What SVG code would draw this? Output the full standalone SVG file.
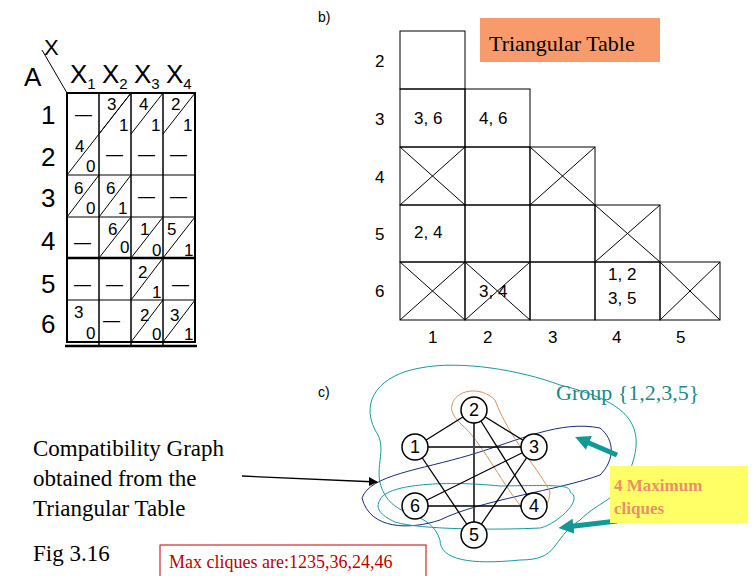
<svg xmlns="http://www.w3.org/2000/svg" width="756" height="576" viewBox="0 0 756 576">
<defs>
<style>
.s{font-family:"Liberation Sans",Arial,sans-serif}
.t{font-family:"Liberation Serif","Times New Roman",serif}
.g{stroke:#000;fill:none}
.n circle{fill:#fff;stroke:#000;stroke-width:1.5}
.n text{font-family:"Liberation Sans",Arial,sans-serif;font-size:18px;text-anchor:middle}
</style>
<marker id="ah" viewBox="0 0 10 10" refX="9" refY="5" markerWidth="7" markerHeight="7" orient="auto"><path d="M0,0 L10,5 L0,10 z" fill="#000"/></marker>
<marker id="ta" viewBox="0 0 10 10" refX="5" refY="5" markerWidth="3" markerHeight="3" orient="auto"><path d="M0,0 L10,5 L0,10 z" fill="#119999"/></marker>
</defs>
<rect width="756" height="576" fill="#fff"/>
<g id="leftTable">
<line x1="42" y1="50" x2="67" y2="93" class="g"/>
<text x="44" y="55" class="s" font-size="22">X</text>
<text x="24" y="86" class="s" font-size="26">A</text>
<g class="s" font-size="26"><text x="70" y="83">X<tspan font-size="15" dy="6">1</tspan></text><text x="102" y="83">X<tspan font-size="15" dy="6">2</tspan></text><text x="134" y="83">X<tspan font-size="15" dy="6">3</tspan></text><text x="166" y="83">X<tspan font-size="15" dy="6">4</tspan></text></g>
<g class="s" font-size="26"><text x="41" y="124">1</text><text x="41" y="166">2</text><text x="41" y="207">3</text><text x="41" y="250">4</text><text x="41" y="293">5</text><text x="41" y="333">6</text></g>
<g stroke="#000" fill="none">
<rect x="67" y="93" width="128" height="249" stroke-width="2"/>
<line x1="99" y1="93" x2="99" y2="346" stroke-width="1.5"/><line x1="131" y1="93" x2="131" y2="346" stroke-width="1.5"/><line x1="163" y1="93" x2="163" y2="346" stroke-width="1.5"/>
<line x1="67" y1="175" x2="195" y2="175"/><line x1="67" y1="217" x2="195" y2="217"/><line x1="67" y1="258" x2="195" y2="258" stroke-width="2.5"/><line x1="67" y1="300" x2="195" y2="300"/>
<line x1="65" y1="346" x2="197" y2="346" stroke-width="2.5"/>
<line x1="67" y1="175" x2="131" y2="93"/><line x1="99" y1="134" x2="131" y2="93"/><line x1="131" y1="134" x2="163" y2="93"/><line x1="163" y1="134" x2="195" y2="93"/>
<line x1="67" y1="217" x2="99" y2="175"/><line x1="99" y1="217" x2="131" y2="175"/>
<line x1="99" y1="258" x2="131" y2="217"/><line x1="131" y1="258" x2="163" y2="217"/><line x1="163" y1="258" x2="195" y2="217"/>
<line x1="131" y1="300" x2="163" y2="258"/>
<line x1="131" y1="342" x2="163" y2="300"/><line x1="163" y1="342" x2="195" y2="300"/>
</g>
<g class="s" font-size="17">
<text x="75" y="120">—</text><text x="107" y="110">3</text><text x="119" y="131">1</text><text x="139" y="110">4</text><text x="151" y="131">1</text><text x="171" y="110">2</text><text x="183" y="131">1</text>
<text x="75" y="152">4</text><text x="86" y="172">0</text><text x="106" y="160">—</text><text x="138" y="160">—</text><text x="170" y="160">—</text>
<text x="74" y="194">6</text><text x="86" y="214">0</text><text x="106" y="194">6</text><text x="118" y="214">1</text><text x="138" y="202">—</text><text x="170" y="202">—</text>
<text x="74" y="248">—</text><text x="108" y="235">6</text><text x="120" y="253">0</text><text x="140" y="235">1</text><text x="152" y="256">0</text><text x="167" y="235">5</text><text x="184" y="256">1</text>
<text x="74" y="290">—</text><text x="106" y="290">—</text><text x="138" y="278">2</text><text x="152" y="298">1</text><text x="172" y="290">—</text>
<text x="74" y="318">3</text><text x="86" y="339">0</text><text x="103" y="326">—</text><text x="140" y="321">2</text><text x="152" y="340">0</text><text x="170" y="321">3</text><text x="184" y="340">1</text>
</g>
</g>
<g id="triTable">
<text x="318" y="22" class="s" font-size="14">b)</text>
<g stroke="#000" fill="none">
<rect x="400" y="31" width="65" height="58"/>
<rect x="400" y="89" width="65" height="58"/><rect x="465" y="89" width="65" height="58"/>
<rect x="400" y="147" width="65" height="58"/><rect x="465" y="147" width="65" height="58"/><rect x="530" y="147" width="65" height="58"/>
<rect x="400" y="205" width="65" height="57"/><rect x="465" y="205" width="65" height="57"/><rect x="530" y="205" width="65" height="57"/><rect x="595" y="205" width="65" height="57"/>
<rect x="400" y="262" width="65" height="58"/><rect x="465" y="262" width="65" height="58"/><rect x="530" y="262" width="65" height="58"/><rect x="595" y="262" width="65" height="58"/><rect x="660" y="262" width="60" height="58"/>
<path d="M400,147 L465,205 M465,147 L400,205 M530,147 L595,205 M595,147 L530,205 M595,205 L660,262 M660,205 L595,262 M400,262 L465,320 M465,262 L400,320 M465,262 L530,320 M530,262 L465,320 M660,262 L720,320 M720,262 L660,320"/>
</g>
<g class="s" font-size="17">
<text x="375" y="67">2</text><text x="375" y="125">3</text><text x="375" y="183">4</text><text x="375" y="240">5</text><text x="375" y="297">6</text>
<text x="428" y="343">1</text><text x="483" y="343">2</text><text x="548" y="343">3</text><text x="612" y="343">4</text><text x="676" y="343">5</text>
<text x="414" y="124">3, 6</text><text x="479" y="124">4, 6</text><text x="414" y="238">2, 4</text><text x="479" y="297">3, 4</text>
<text x="608" y="280">1, 2</text><text x="608" y="304">3, 5</text>
</g>
<rect x="480" y="18" width="180" height="44" fill="#f79b6c"/>
<text x="489" y="51" class="t" font-size="22">Triangular Table</text>
</g>
<g id="contours" fill="none" stroke-width="1">
<path d="M375,430 C360,400 380,375 420,368 C460,360 520,370 560,385 C620,400 650,420 630,470 C620,500 600,500 580,520 C550,540 560,560 520,560 C470,565 440,560 440,540 C430,510 400,520 385,495 C370,470 390,450 375,430 Z" stroke="#1a9a9a"/>
<path d="M362,498 C370,475 420,470 470,455 C520,440 560,420 600,428 C615,440 615,460 600,475 C560,490 480,500 440,520 C410,530 370,530 362,498 Z" stroke="#1a2a7a"/>
<path d="M380,500 C385,485 440,480 500,486 C560,485 570,485 570,492 C585,500 555,525 540,528 C500,530 420,530 395,522 C380,515 375,508 380,500 Z" stroke="#1a9a9a"/>
<path d="M452,405 C455,390 480,385 495,400 C510,440 540,470 550,492 C548,518 525,520 520,505 C500,480 480,440 462,425 C455,418 450,412 452,405 Z" stroke="#d9925a"/>
</g>
<g id="connectors" stroke="#000" stroke-width="1.3">
<line x1="415" y1="447" x2="474" y2="410"/><line x1="474" y1="410" x2="534" y2="447"/><line x1="415" y1="447" x2="534" y2="447"/>
<line x1="474" y1="410" x2="474" y2="535" stroke="#444" stroke-width="2"/><line x1="474" y1="410" x2="534" y2="506"/><line x1="415" y1="447" x2="474" y2="535"/>
<line x1="534" y1="447" x2="415" y2="506"/><line x1="534" y1="447" x2="474" y2="535"/><line x1="415" y1="506" x2="534" y2="506"/>
<line x1="242" y1="476" x2="377" y2="482" marker-end="url(#ah)"/>
<line x1="617" y1="455" x2="582" y2="440" stroke="#119999" stroke-width="5" marker-end="url(#ta)"/>
<line x1="617" y1="521" x2="566" y2="527" stroke="#119999" stroke-width="5" marker-end="url(#ta)"/>
</g>
<g id="node1" class="n"><circle cx="415" cy="447" r="13"/><text x="415" y="453">1</text></g>
<g id="node2" class="n"><circle cx="474" cy="410" r="13"/><text x="474" y="416">2</text></g>
<g id="node3" class="n"><circle cx="534" cy="447" r="13"/><text x="534" y="453">3</text></g>
<g id="node4" class="n"><circle cx="534" cy="506" r="13"/><text x="534" y="512">4</text></g>
<g id="node5" class="n"><circle cx="474" cy="535" r="13"/><text x="474" y="541">5</text></g>
<g id="node6" class="n"><circle cx="415" cy="506" r="13"/><text x="415" y="512">6</text></g>
<g id="labels">
<text x="318" y="397" class="s" font-size="14">c)</text>
<text x="556" y="400" class="t" font-size="22" fill="#1a8a8a">Group {1,2,3,5}</text>
<g class="t" font-size="23"><text x="33" y="456">Compatibility Graph</text><text x="33" y="486">obtained from the</text><text x="33" y="516">Triangular Table</text><text x="33" y="561">Fig 3.16</text></g>
<rect x="160" y="545" width="266" height="32" fill="#fff" stroke="#c00000"/>
<text x="169" y="568" class="t" font-size="18" fill="#c00000">Max cliques are:1235,36,24,46</text>
<rect x="610" y="466" width="138" height="57" fill="#ffff66"/>
<g class="t" font-size="17" font-weight="bold" fill="#e8906a"><text x="614" y="491">4 Maximum</text><text x="614" y="514">cliques</text></g>
</g>
</svg>
